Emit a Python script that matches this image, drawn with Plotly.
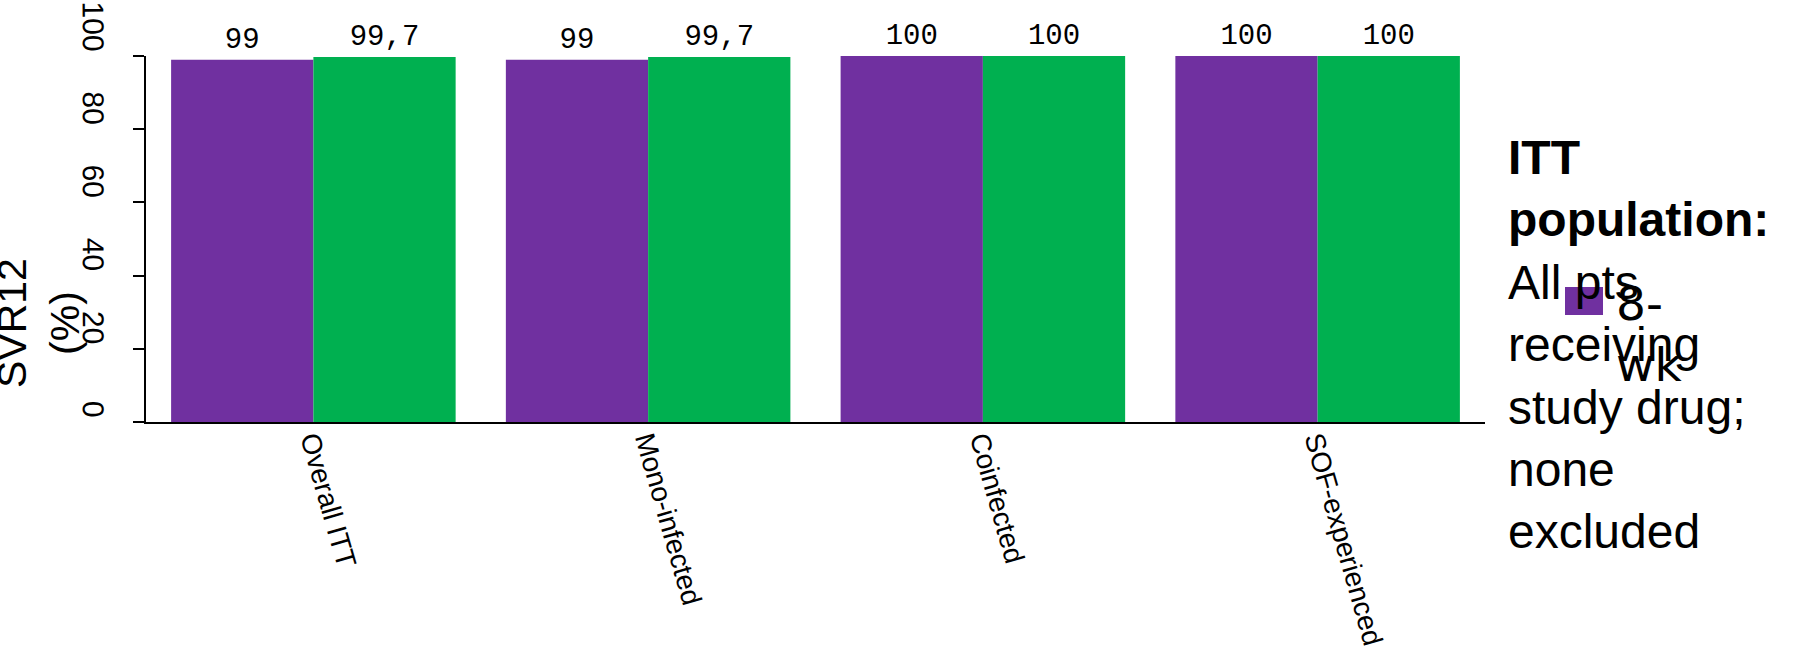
import plotly.graph_objects as go

# SVR12 by subgroup, 8-week vs 12-week arms
categories = ["Overall ITT", "Mono-infected", "Coinfected", "SOF-experienced"]
svr_8wk = [99, 99, 100, 100]
svr_12wk = [99.7, 99.7, 100, 100]
series_names = ["8-wk", "12-wk"]
y_ticks = [0, 20, 40, 60, 80, 100]

PURPLE = "#7030A0"
GREEN = "#00B050"

W, H = 1799, 650
M_L, M_R, M_T, M_B = 146, 314, 56, 228
PW = W - M_L - M_R
PH = H - M_T - M_B


def px_x(x):
    return (x - M_L) / PW


def px_y(y):
    return (H - M_B - y) / PH


def fmt(v):
    return f"{v:g}".replace(".", ",")


label_font = dict(family="Liberation Mono", size=29, color="black")

fig = go.Figure()
fig.add_trace(go.Bar(
    x=categories, y=svr_8wk, name=series_names[0],
    marker=dict(color=PURPLE, line=dict(width=0)),
    text=[fmt(v) for v in svr_8wk], textposition="outside",
    textfont=label_font, cliponaxis=False, showlegend=False,
))
fig.add_trace(go.Bar(
    x=categories, y=svr_12wk, name=series_names[1],
    marker=dict(color=GREEN, line=dict(width=0)),
    text=[fmt(v) for v in svr_12wk], textposition="outside",
    textfont=label_font, cliponaxis=False, showlegend=False,
))

fig.update_layout(
    width=W, height=H,
    margin=dict(l=M_L, r=M_R, t=M_T, b=M_B, pad=0, autoexpand=False),
    paper_bgcolor="white", plot_bgcolor="white",
    barmode="group", bargap=0.15, bargroupgap=0,
    font=dict(family="Liberation Sans", color="black"),
    showlegend=False,
    xaxis=dict(
        automargin=False,
        showline=True, linecolor="black", linewidth=2,
        ticks="", tickangle=74, ticklabelstandoff=-11,
        tickfont=dict(family="Liberation Sans", size=28, color="black"),
        showgrid=False, zeroline=False,
    ),
    yaxis=dict(
        automargin=False,
        range=[0, 100], tickvals=y_ticks,
        showline=True, linecolor="black", linewidth=2,
        ticks="outside", ticklen=11, tickwidth=2, tickcolor="black",
        tickangle=89.5, ticklabelstandoff=29,
        tickfont=dict(family="Liberation Sans", size=30, color="black"),
        showgrid=False, zeroline=False,
    ),
)

# y-axis caption
fig.add_annotation(
    text="SVR12<br>(%)", textangle=-90,
    xref="paper", yref="paper", x=px_x(38), y=px_y(323),
    xanchor="center", yanchor="middle", showarrow=False,
    font=dict(family="Liberation Sans", size=41, color="black"),
)

# population note on the right
fig.add_annotation(
    text="<b>ITT<br>population:</b><br>All pts<br>receiving<br>study drug;<br>none<br>excluded",
    xref="paper", yref="paper", x=px_x(1506), y=px_y(344),
    xanchor="left", yanchor="middle", align="left", showarrow=False,
    font=dict(family="Liberation Sans", size=48, color="black"),
)

# legend key for the 8-week arm
fig.add_shape(
    type="rect", xref="paper", yref="paper",
    x0=px_x(1565), x1=px_x(1603), y0=px_y(315), y1=px_y(287),
    fillcolor=PURPLE, line=dict(width=0), layer="above",
)
fig.add_annotation(
    text=series_names[0].replace("-", "-<br>"),
    xref="paper", yref="paper", x=px_x(1614), y=px_y(334),
    xanchor="left", yanchor="middle", align="left", showarrow=False,
    font=dict(family="DejaVu Sans", size=47, color="black"),
)

fig.write_html("out.html")
